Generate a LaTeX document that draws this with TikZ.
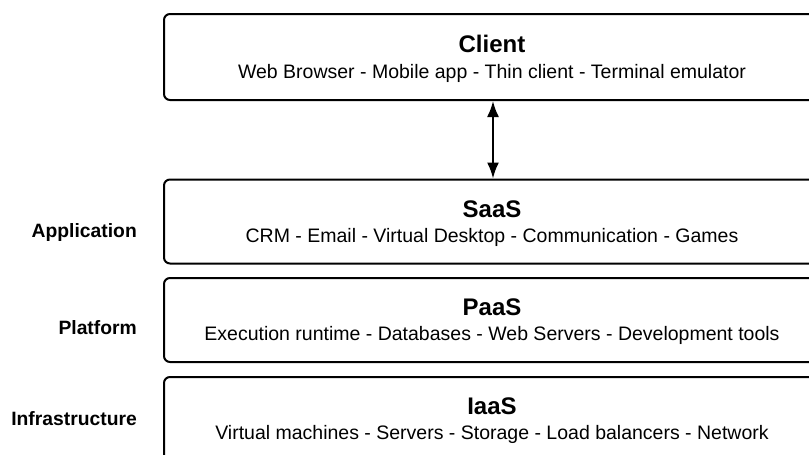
\documentclass[tikz,border=0pt]{standalone}
\usepackage{fontspec}
\setmainfont{Liberation Sans}
\usetikzlibrary{arrows.meta}

\begin{document}
\begin{tikzpicture}[x=1pt, y=-1pt]
    \tikzset{layer/.style={draw, line width=2pt, rounded corners=6pt, minimum width=656pt, minimum height=84pt, inner sep=0pt}}
    \tikzset{boxtitle/.style={anchor=base, inner sep=0pt, font=\fontsize{24}{28}\selectfont\bfseries}}
    \tikzset{boxitems/.style={anchor=base, inner sep=0pt, font=\fontsize{19.5}{23}\selectfont}}
    \tikzset{levelname/.style={anchor=base east, inner sep=0pt, font=\fontsize{19.3}{23}\selectfont\bfseries}}
    \clip (0, 0) rectangle (809, 455);
    % stack of boxes, cut off on the right
    \node[layer, minimum height=86pt] (client) at (492, 57) {};
    \node[layer] (saas) at (492, 221.5) {};
    \node[layer] (paas) at (492, 320) {};
    \node[layer] (iaas) at (492, 419) {};
    \node[boxtitle] (client-title) at ([yshift=4.5pt]client.center) {Client};
    \node[boxitems] (client-items) at ([yshift=-21pt]client.center) {Web Browser - Mobile app - Thin client - Terminal emulator};
    \node[boxtitle] (saas-title) at ([yshift=4.5pt]saas.center) {SaaS};
    \node[boxitems] (saas-items) at ([yshift=-20.5pt]saas.center) {CRM - Email - Virtual Desktop - Communication - Games};
    \node[boxtitle] (paas-title) at ([yshift=4.5pt]paas.center) {PaaS};
    \node[boxitems] (paas-items) at ([yshift=-20.5pt]paas.center) {Execution runtime - Databases - Web Servers - Development tools};
    \node[boxtitle] (iaas-title) at ([yshift=4.5pt]iaas.center) {IaaS};
    \node[boxitems] (iaas-items) at ([yshift=-20.5pt]iaas.center) {Virtual machines - Servers - Storage - Load balancers - Network};
    % level names on the left
    \node[levelname] (app) at (137, 237.5) {Application};
    \node[levelname] (plat) at (137, 334) {Platform};
    \node[levelname] (infra) at (137, 425) {Infrastructure};
    \draw[line width=2pt, {Latex[length=16pt, width=12pt]}-{Latex[length=16pt, width=12pt]}] (client.south -| 493, 0) -- (saas.north -| 493, 0);
\end{tikzpicture}
\end{document}
